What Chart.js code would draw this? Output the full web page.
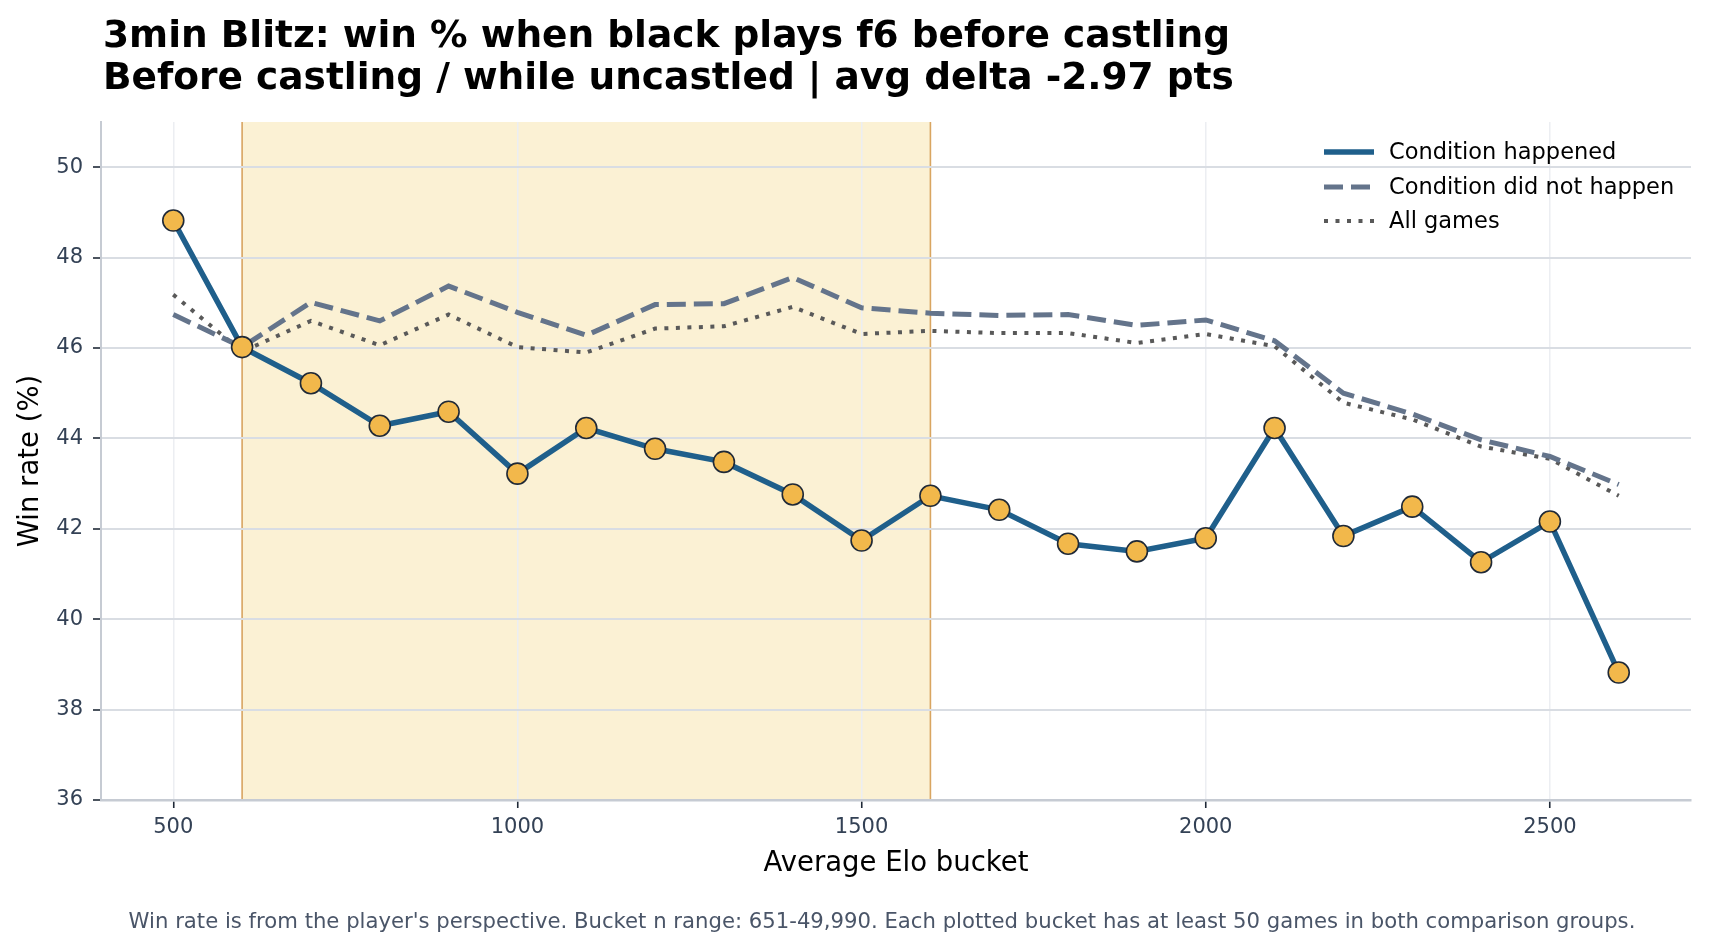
<!DOCTYPE html>
<html>
<head>
<meta charset="utf-8">
<title>3min Blitz: win % when black plays f6 before castling</title>
<script src="https://cdn.jsdelivr.net/npm/chart.js@4.4.1/dist/chart.umd.min.js"></script>
<style>
    html, body { margin: 0; padding: 0; background: #ffffff; }
    #wrap { width: 1711px; height: 950px; position: relative; }
</style>
</head>
<body>
<div id="wrap"><canvas id="winChart" width="1711" height="950"></canvas></div>
<script>
// ===== DATA =====
const eloBuckets = [500, 600, 700, 800, 900, 1000, 1100, 1200, 1300, 1400, 1500,
                    1600, 1700, 1800, 1900, 2000, 2100, 2200, 2300, 2400, 2500, 2600];
const conditionHappened = [48.82, 46.02, 45.22, 44.28, 44.59, 43.22, 44.23, 43.77, 43.48, 42.76, 41.74,
                           42.73, 42.42, 41.67, 41.50, 41.79, 44.23, 41.84, 42.49, 41.26, 42.16, 38.82];
const conditionNotHappened = [46.74, 46.02, 47.01, 46.60, 47.37, 46.79, 46.28, 46.96, 46.98, 47.56, 46.89,
                              46.77, 46.72, 46.74, 46.50, 46.62, 46.16, 45.00, 44.54, 43.97, 43.60, 42.98];
const allGames = [47.18, 45.92, 46.60, 46.06, 46.74, 46.02, 45.90, 46.43, 46.48, 46.91, 46.31,
                  46.38, 46.33, 46.33, 46.11, 46.31, 46.04, 44.79, 44.42, 43.82, 43.55, 42.73];
const xTickValues = [500, 1000, 1500, 2000, 2500];
const yTickValues = [36, 38, 40, 42, 44, 46, 48, 50];
const highlightRange = [600, 1600];

const titleLines = [
    '3min Blitz: win % when black plays f6 before castling',
    'Before castling / while uncastled | avg delta -2.97 pts'
];
const footnoteText = "Win rate is from the player's perspective. Bucket n range: 651-49,990. Each plotted bucket has at least 50 games in both comparison groups.";

const FONT = '"DejaVu Sans", Verdana, sans-serif';

// ===== PLUGINS =====
// shaded elo band, drawn under the grid
const bandPlugin = {
    id: 'band',
    beforeDraw(chart) {
        const { ctx, chartArea, scales } = chart;
        const x0 = scales.x.getPixelForValue(highlightRange[0]);
        const x1 = scales.x.getPixelForValue(highlightRange[1]);
        ctx.save();
        ctx.fillStyle = '#fbf1d4';
        ctx.fillRect(x0, chartArea.top, x1 - x0, chartArea.bottom - chartArea.top);
        ctx.strokeStyle = '#d9a561';
        ctx.lineWidth = 1.6;
        [x0, x1].forEach(x => {
            ctx.beginPath();
            ctx.moveTo(x, chartArea.top);
            ctx.lineTo(x, chartArea.bottom);
            ctx.stroke();
        });
        ctx.restore();
    }
};

// title, legend and footnote text
const textPlugin = {
    id: 'texts',
    afterDraw(chart) {
        const { ctx } = chart;
        ctx.save();

        // title
        ctx.fillStyle = '#000000';
        ctx.font = 'bold 37.5px ' + FONT;
        ctx.textAlign = 'left';
        ctx.textBaseline = 'alphabetic';
        ctx.fillText(titleLines[0], 103, 47);
        ctx.fillText(titleLines[1], 103, 89);

        // legend
        const rowsY = [152, 187, 221];
        chart.data.datasets.forEach((ds, i) => {
            const y = rowsY[i];
            ctx.strokeStyle = ds.borderColor;
            ctx.lineWidth = ds.borderWidth;
            ctx.setLineDash(ds.borderDash || []);
            ctx.lineCap = 'butt';
            ctx.beginPath();
            ctx.moveTo(1324, y);
            ctx.lineTo(1374, y);
            ctx.stroke();
            ctx.setLineDash([]);
            ctx.fillStyle = '#000000';
            ctx.font = '22.5px ' + FONT;
            ctx.textBaseline = 'middle';
            ctx.fillText(ds.label, 1389, y + 1);
        });

        // footnote
        ctx.fillStyle = '#4a5568';
        ctx.font = '21.2px ' + FONT;
        ctx.textAlign = 'center';
        ctx.textBaseline = 'middle';
        ctx.fillText(footnoteText, 882, 922);

        ctx.restore();
    }
};

// ===== CHART =====
const toPoints = arr => eloBuckets.map((x, i) => ({ x: x, y: arr[i] }));

new Chart(document.getElementById('winChart'), {
    type: 'line',
    data: {
        datasets: [
            {
                label: 'Condition happened',
                data: toPoints(conditionHappened),
                borderColor: '#1f5f8b',
                borderWidth: 5.5,
                pointRadius: 10.5,
                pointBackgroundColor: '#f2b84b',
                pointBorderColor: '#1f2937',
                pointBorderWidth: 1.6,
                tension: 0
            },
            {
                label: 'Condition did not happen',
                data: toPoints(conditionNotHappened),
                borderColor: '#64748b',
                borderWidth: 5,
                borderDash: [19, 8],
                pointRadius: 0,
                tension: 0
            },
            {
                label: 'All games',
                data: toPoints(allGames),
                borderColor: '#595959',
                borderWidth: 4,
                borderDash: [4, 7.5],
                pointRadius: 0,
                tension: 0
            }
        ]
    },
    options: {
        responsive: false,
        animation: false,
        devicePixelRatio: 1,
        layout: {
            padding: { left: 0, right: 20, top: 122, bottom: 0 }
        },
        plugins: {
            legend: { display: false },
            title: { display: false },
            tooltip: { enabled: false }
        },
        scales: {
            x: {
                type: 'linear',
                min: 395,
                max: 2705,
                afterFit: s => { s.height = 150; },
                afterBuildTicks: s => { s.ticks = xTickValues.map(v => ({ value: v })); },
                grid: {
                    color: '#eceef2',
                    lineWidth: 1.5,
                    tickColor: '#1f2937',
                    tickLength: 8,
                    tickWidth: 1.6
                },
                border: { color: '#c6cbd3', width: 2.5 },
                ticks: {
                    color: '#334155',
                    padding: 7,
                    font: { family: FONT, size: 21 },
                    maxRotation: 0,
                    callback: v => String(v)
                },
                title: {
                    display: true,
                    text: 'Average Elo bucket',
                    color: '#000000',
                    font: { family: FONT, size: 27.5 },
                    padding: { top: 0, bottom: 70 }
                }
            },
            y: {
                min: 36,
                max: 51,
                afterFit: s => { s.width = 101; },
                afterBuildTicks: s => { s.ticks = yTickValues.map(v => ({ value: v })); },
                grid: {
                    color: '#d9dde3',
                    lineWidth: 2,
                    tickColor: '#1f2937',
                    tickLength: 8,
                    tickWidth: 1.6
                },
                border: { color: '#c6cbd3', width: 2 },
                ticks: {
                    color: '#334155',
                    padding: 10,
                    font: { family: FONT, size: 21 },
                    callback: v => String(v)
                },
                title: {
                    display: true,
                    text: 'Win rate (%)',
                    color: '#000000',
                    font: { family: FONT, size: 27.5 },
                    padding: { top: 14, bottom: 0 }
                }
            }
        }
    },
    plugins: [bandPlugin, textPlugin]
});
</script>
</body>
</html>
